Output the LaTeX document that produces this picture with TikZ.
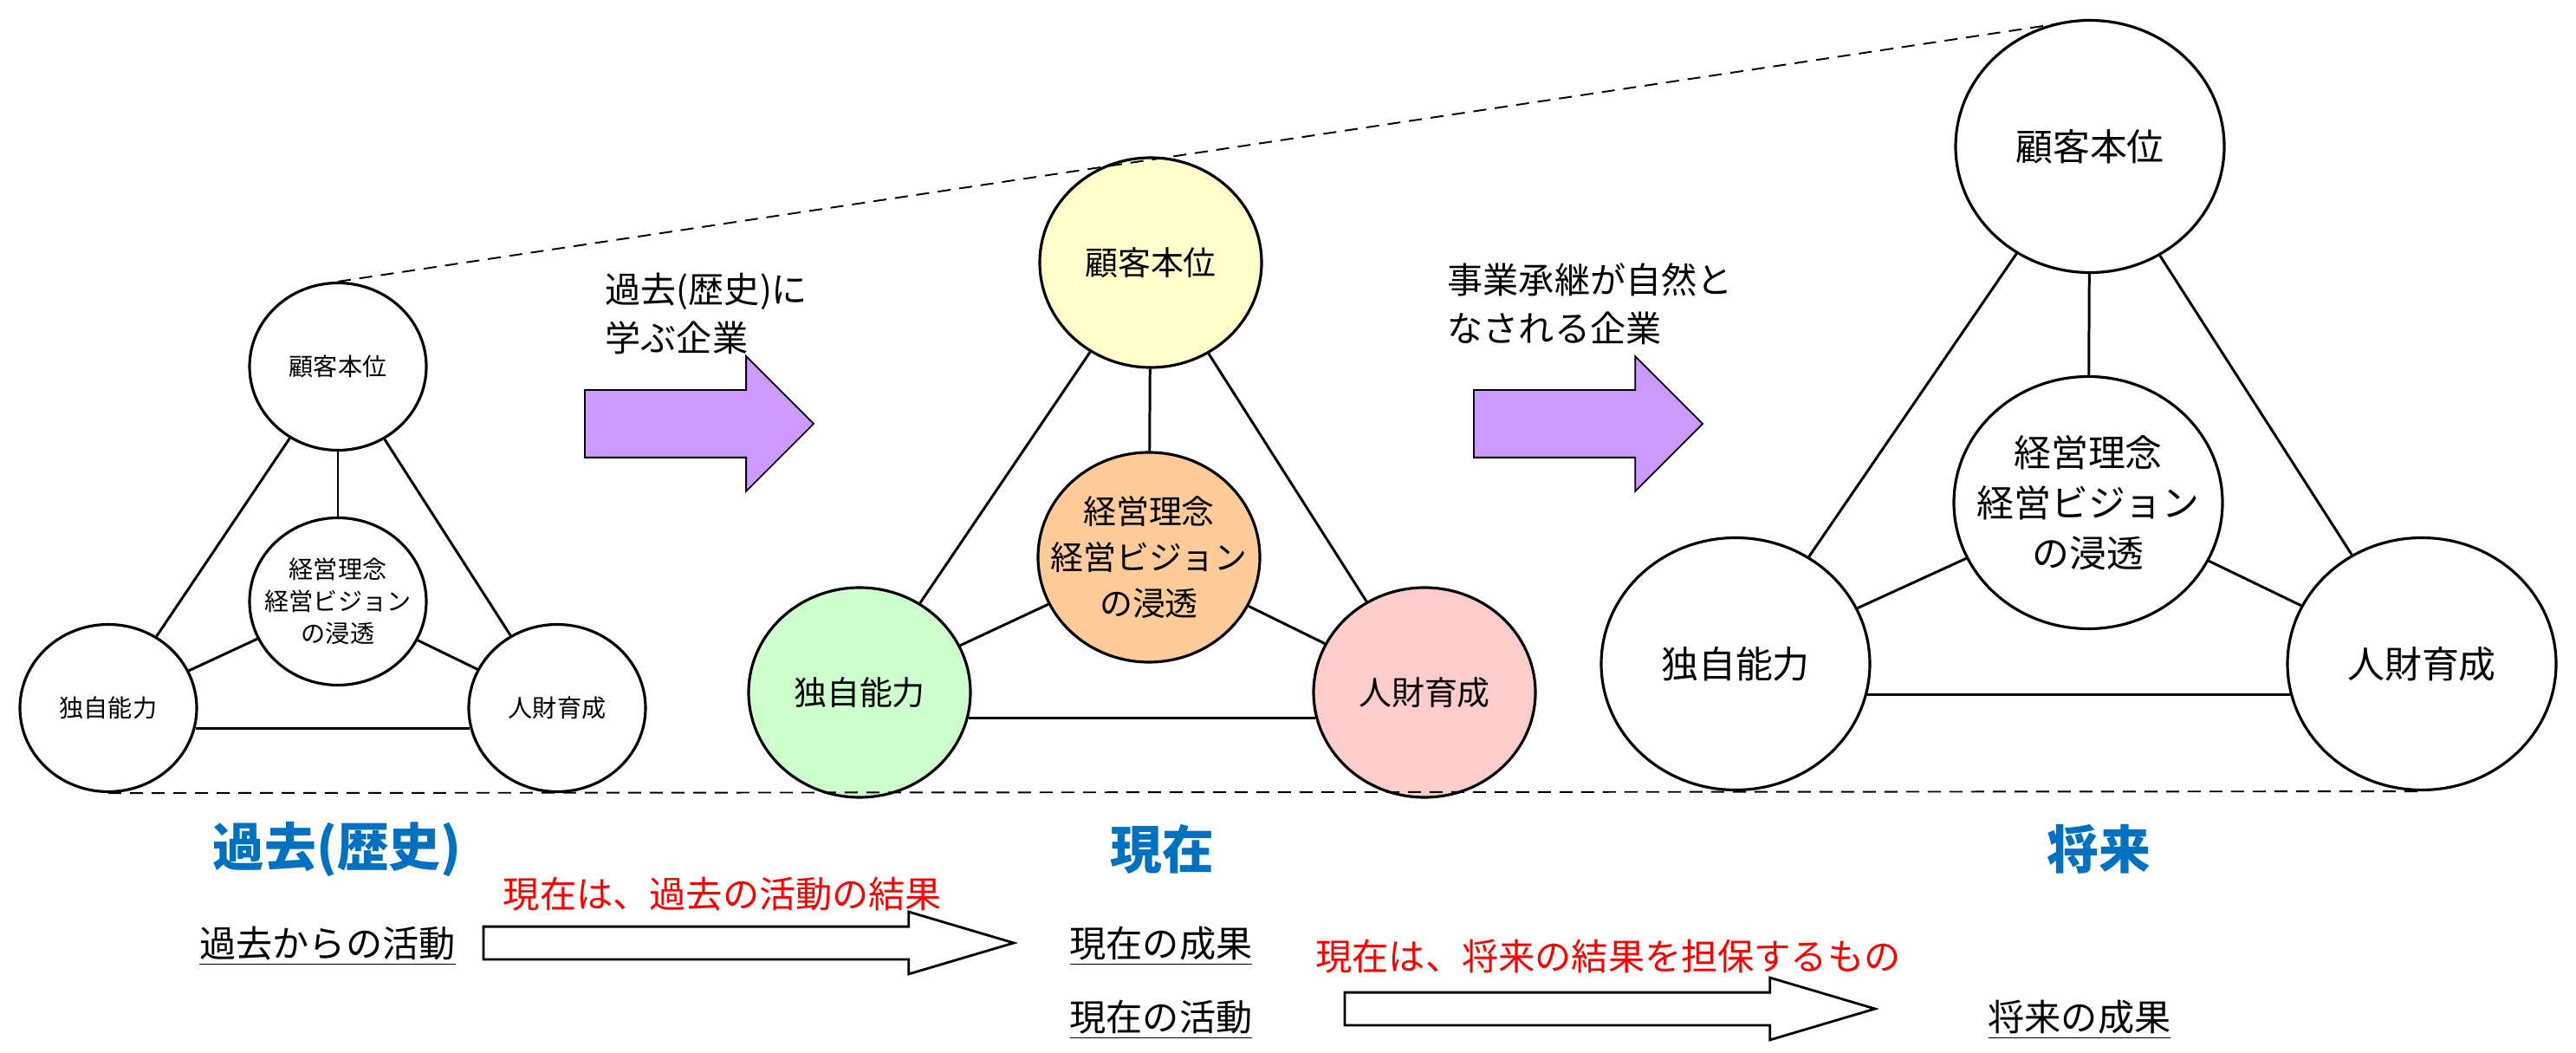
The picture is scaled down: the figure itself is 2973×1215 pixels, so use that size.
\documentclass[tikz,border=0pt]{standalone}
\usepackage{fontspec}
\setmainfont{Noto Sans CJK JP}
\usetikzlibrary{shapes.geometric,shapes.arrows}
\definecolor{kyellow}{RGB}{255,255,204}
\definecolor{korange}{RGB}{255,204,153}
\definecolor{kgreen}{RGB}{204,255,204}
\definecolor{kpink}{RGB}{255,204,204}
\definecolor{kpurple}{RGB}{204,153,255}
\definecolor{kblue}{RGB}{0,112,192}
\begin{document}
\begin{tikzpicture}[x=0.1mm, y=-0.1mm,
    bubble/.style={ellipse, draw, line width=0.9pt, inner sep=0pt, fill=white},
    bubs/.style={bubble, minimum width=20.4mm, minimum height=19.3mm},
    bubm/.style={bubble, minimum width=25.6mm, minimum height=24.2mm},
    bubl/.style={bubble, minimum width=31mm, minimum height=29.1mm},
    txts/.style={font=\fontsize{8}{10.5}\selectfont, align=center, inner sep=0pt},
    txtm/.style={font=\fontsize{10.8}{15}\selectfont, align=center, inner sep=0pt},
    txtl/.style={font=\fontsize{12.2}{16.5}\selectfont, align=center, inner sep=0pt},
    link/.style={line width=0.85pt},
    guide/.style={line width=0.55pt, dash pattern=on 1.5mm off 1mm},
    fatarrow/.style={single arrow, draw, fill=kpurple, line width=0.5pt, inner xsep=0pt,
        inner ysep=3.8mm, outer sep=0pt, minimum height=26.4mm, single arrow head extend=3.9mm,
        single arrow tip angle=90, anchor=tail},
    thinarrow/.style={single arrow, draw, fill=white, line width=0.8pt, inner xsep=0pt,
        inner ysep=1.75mm, outer sep=0pt, minimum height=61.2mm, single arrow head extend=1.7mm,
        single arrow tip angle=33, anchor=tail},
    captxt/.style={font=\fontsize{11.7}{16}\selectfont, align=left, inner sep=0pt, anchor=west},
    era/.style={font=\fontsize{17}{20}\selectfont\bfseries, text=kblue, inner sep=0pt},
    note/.style={font=\fontsize{12}{14}\selectfont, text=red, inner sep=0pt},
    item/.style={font=\fontsize{12}{14}\selectfont, inner sep=0pt, anchor=base}]
    \useasboundingbox (0,0) rectangle (2973,1215);

    % Past (small triangle)
    \node[bubs, label={[txts]center:顧客本位}] (t1) at (390,423) {};
    \node[bubs, label={[txts]center:経営理念\\経営ビジョン\\の浸透}] (c1) at (390,694) {};
    \node[bubs, label={[txts]center:独自能力}] (l1) at (125,817) {};
    \node[bubs, label={[txts]center:人財育成}] (r1) at (643,817) {};
    \draw[link] (t1) -- (l1);
    \draw[link] (t1) -- (r1);
    \draw[link] (t1) -- (c1);
    \draw[link] (c1) -- (l1);
    \draw[link] (c1) -- (r1);
    \draw[link] (l1.-13) -- (r1.-167);

    % Present (coloured triangle)
    \node[bubm, fill=kyellow, label={[txtm]center:顧客本位}] (t2) at (1328,303) {};
    \node[bubm, fill=korange, label={[txtm]center:経営理念\\経営ビジョン\\の浸透}] (c2) at (1326,643) {};
    \node[bubm, fill=kgreen, label={[txtm]center:独自能力}] (l2) at (992,799) {};
    \node[bubm, fill=kpink, label={[txtm]center:人財育成}] (r2) at (1644,799) {};
    \draw[link] (t2) -- (l2);
    \draw[link] (t2) -- (r2);
    \draw[link] (t2) -- (c2);
    \draw[link] (c2) -- (l2);
    \draw[link] (c2) -- (r2);
    \draw[link] (l2.-13) -- (r2.-167);

    % Future (large triangle)
    \node[bubl, label={[txtl]center:顧客本位}] (t3) at (2412,169) {};
    \node[bubl, label={[txtl]center:経営理念\\経営ビジョン\\の浸透}] (c3) at (2410,580) {};
    \node[bubl, label={[txtl]center:独自能力}] (l3) at (2003,766) {};
    \node[bubl, label={[txtl]center:人財育成}] (r3) at (2795,766) {};
    \draw[link] (t3) -- (l3);
    \draw[link] (t3) -- (r3);
    \draw[link] (t3) -- (c3);
    \draw[link] (c3) -- (l3);
    \draw[link] (c3) -- (r3);
    \draw[link] (l3.-13) -- (r3.-167);

    % Growth guides
    \draw[guide] (t1.north) -- (t3.north);
    \draw[guide] (l1.south) -- (r3.south);

    % Purple arrows with captions
    \node[fatarrow] (fa1) at (675,489) {};
    \node[fatarrow] (fa2) at (1701,489) {};
    \node[captxt] (cap1) at (698,362) {過去(歴史)に\\学ぶ企業};
    \node[captxt] (cap2) at (1670,351) {事業承継が自然と\\なされる企業};

    % Time line
    \node[era] (era1) at (389,980) {過去(歴史)};
    \node[era] (era2) at (1341,980) {現在};
    \node[era] (era3) at (2422,980) {将来};

    \node[note] (note1) at (834,1032) {現在は、過去の活動の結果};
    \node[note] (note2) at (1856,1104) {現在は、将来の結果を担保するもの};

    \node[item] (item1) at (378,1104) {\underline{過去からの活動}};
    \node[item] (item2) at (1340,1104) {\underline{現在の成果}};
    \node[item] (item3) at (1340,1189) {\underline{現在の活動}};
    \node[item] (item4) at (2400,1189) {\underline{将来の成果}};

    \node[thinarrow] (ha1) at (558,1088) {};
    \node[thinarrow] (ha2) at (1552,1164) {};
\end{tikzpicture}
\end{document}
